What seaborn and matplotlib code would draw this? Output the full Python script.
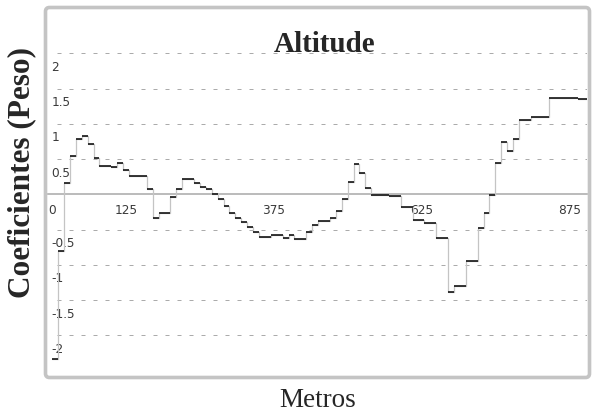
import numpy as np
import pandas as pd
import matplotlib
matplotlib.use("Agg")
import matplotlib.pyplot as plt
from matplotlib.patches import FancyBboxPatch
import seaborn as sns

# Step coefficients along the route: each value holds from its start (m) to the next start
step_start = [0, 10, 20, 30, 40, 50, 60, 70, 80, 100, 110, 120, 130, 160, 170, 180,
              200, 210, 220, 240, 250, 260, 270, 280, 290, 300, 310, 320, 330, 340,
              350, 370, 390, 400, 410, 430, 440, 450, 470, 480, 490, 500, 510, 520,
              530, 540, 570, 590, 610, 630, 650, 670, 680, 700, 720, 730, 740, 750,
              760, 770, 780, 790, 810, 840, 890]
step_end = 910
coef = [-2.34, -0.81, 0.16, 0.54, 0.78, 0.82, 0.71, 0.52, 0.40, 0.38, 0.45, 0.34,
        0.26, 0.07, -0.33, -0.26, -0.04, 0.07, 0.21, 0.16, 0.11, 0.07, 0.01, -0.07,
        -0.16, -0.26, -0.33, -0.40, -0.47, -0.54, -0.61, -0.58, -0.62, -0.58, -0.64,
        -0.54, -0.43, -0.38, -0.34, -0.24, -0.07, 0.18, 0.43, 0.30, 0.09, -0.01,
        -0.03, -0.18, -0.37, -0.41, -0.62, -1.39, -1.30, -0.95, -0.48, -0.26, -0.01,
        0.45, 0.74, 0.61, 0.78, 1.06, 1.09, 1.36, 1.35]

x_ticks = [0, 125, 375, 625, 875]
x_tick_labels = ["0", "125", "375", "625", "875"]
y_ticks = [2, 1.5, 1, 0.5, -0.5, -1, -1.5, -2]
y_tick_labels = ["2", "1.5", "1", "0.5", "-0.5", "-1", "-1.5", "-2"]

title = "Altitude"
x_label = "Metros"
y_label = "Coeficientes (Peso)"

sns.set_theme(style="white")
plt.rcParams["font.family"] = ["DejaVu Sans"]

W, H = 592, 414
fig = plt.figure(figsize=(W / 100, H / 100), dpi=100)
fig.patch.set_facecolor("white")

# grey rounded panel frame
frame = FancyBboxPatch((45.5, H - 378.5), 544, 370,
                       boxstyle="round,pad=0,rounding_size=4",
                       linewidth=2.6, edgecolor="#c4c4c4", facecolor="white",
                       transform=None, zorder=0)
fig.add_artist(frame)

ax = fig.add_axes([48 / W, 1 - 375 / H, (587 - 48) / W, (375 - 12) / H])
ax.set_facecolor("none")
ax.set_xlim(-7, 905)
ax.set_ylim(-2.55, 2.6)

# dashed horizontal grid
for v in y_ticks:
    ax.hlines(v, 8, 905, colors="#ababab", linewidth=0.72,
              linestyles=(0, (4, 8)), zorder=1)

# zero axis with inward ticks
for s in ["top", "left", "right"]:
    ax.spines[s].set_visible(False)
ax.spines["bottom"].set_position(("data", 0))
ax.spines["bottom"].set_color("#a8a8a8")
ax.spines["bottom"].set_linewidth(1.1)
ax.set_xticks(x_ticks)
ax.set_xticklabels(x_tick_labels)
ax.tick_params(axis="x", direction="in", length=6, width=1.1, color="#111111",
               pad=6.5, labelsize=8.7, labelcolor="#3a3a3a")
ax.set_yticks([])

# y tick labels sit just under their grid line
for v, lab in zip(y_ticks, y_tick_labels):
    ax.text(-1, v - 0.185, lab, ha="left", va="center", fontsize=8.7,
            color="#3a3a3a", zorder=2)

# step curve: light vertical risers, dark horizontal treads
df = pd.DataFrame({"x": step_start + [step_end], "y": coef + [coef[-1]]})
sns.lineplot(data=df, x="x", y="y", drawstyle="steps-post", color="#c4c4c4",
             linewidth=0.9, sort=False, errorbar=None, ax=ax, zorder=3)
ax.hlines(coef, step_start, step_start[1:] + [step_end], colors="#151515",
          linewidth=1.2, zorder=4)
ax.set_xlabel("")
ax.set_ylabel("")

serif = ["Liberation Serif", "DejaVu Serif"]
fig.text(325 / W, 1 - 52 / H, title, ha="center", va="baseline",
         fontsize=21, fontweight="bold", family=serif)
fig.text(22 / W, 1 - 172 / H, y_label, ha="center", va="center", rotation=90,
         fontsize=22.5, fontweight="bold", family=serif)
fig.text(318 / W, 1 - 407 / H, x_label, ha="center", va="baseline",
         fontsize=19.5, family=serif)

fig.savefig("out.png", dpi=100)
